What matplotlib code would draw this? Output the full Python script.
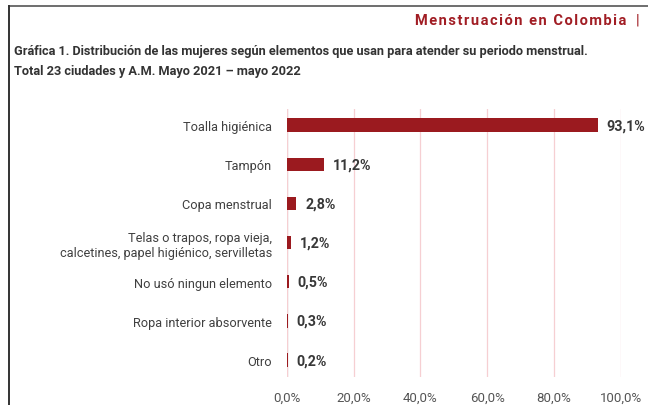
import matplotlib.pyplot as plt
from matplotlib.lines import Line2D

plt.rcParams['font.family'] = ['Roboto', 'DejaVu Sans']

categories = ['Toalla higiénica', 'Tampón', 'Copa menstrual',
              'Telas o trapos, ropa vieja,\ncalcetines, papel higiénico, servilletas',
              'No usó ningun elemento', 'Ropa interior absorvente', 'Otro']
values = [93.1, 11.2, 2.8, 1.2, 0.5, 0.3, 0.2]
ticks = [0, 20, 40, 60, 80, 100]
tick_labels = ['0,0%', '20,0%', '40,0%', '60,0%', '80,0%', '100,0%']

bar_color = '#9b1a1f'
text_gray = '#404040'

fig = plt.figure(figsize=(6.48, 4.06), dpi=100)
ax = fig.add_axes([0.443, 0.069, 0.5147, 0.66])

ypos = list(range(len(categories)))
ax.barh(ypos, values, height=0.34, color=bar_color, zorder=3)
for y, v in zip(ypos, values):
    ax.text(v + 2.6, y, f'{v:.1f}%'.replace('.', ','), va='center', ha='left',
            fontsize=10.3, fontweight='bold', color='#383838')

ax.set_xlim(0, 100)
ax.set_ylim(6.43, -0.41)
ax.set_yticks(ypos)
ax.set_yticklabels(categories, fontsize=9.2, color=text_gray)
ax.set_xticks(ticks)
ax.set_xticklabels(tick_labels, fontsize=9.5, color='#555555')
ax.tick_params(axis='both', length=0)
ax.tick_params(axis='y', pad=11)
ax.tick_params(axis='x', pad=10)
for s in ax.spines.values():
    s.set_visible(False)
ax.grid(axis='x', color='#f6cfd2', lw=0.9, zorder=0)
ax.axvline(0, color='#d9d9d9', lw=1, zorder=1)

# frame lines
fig.add_artist(Line2D([9 / 648, 1], [1 - 7 / 406, 1 - 7 / 406], color='#555555', lw=1.2))
fig.add_artist(Line2D([9 / 648, 9 / 648], [0, 1 - 7 / 406], color='#333333', lw=1.4))

title = '\u200a'.join('Menstruación en Colombia')
fig.text(626 / 648, 1 - 21 / 406, title, ha='right', va='center',
         fontsize=10.5, fontweight='bold', color='#a11d24')
fig.text(638 / 648, 1 - 21 / 406, '|', ha='center', va='center',
         fontsize=10.5, color='#a11d24')
fig.text(14 / 648, 1 - 52 / 406,
         'Gráfica 1. Distribución de las mujeres según elementos que usan para atender su periodo menstrual.',
         ha='left', va='center', fontsize=9.2, fontweight='bold', color='#333333')
fig.text(14 / 648, 1 - 72 / 406, 'Total 23 ciudades y A.M. Mayo 2021 – mayo 2022',
         ha='left', va='center', fontsize=9.2, fontweight='bold', color='#333333')

fig.savefig('out.png', dpi=100)
